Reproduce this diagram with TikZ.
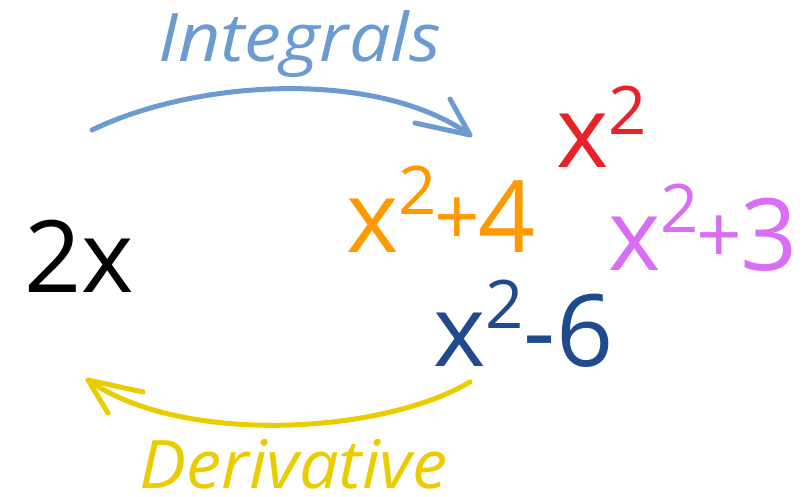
\documentclass[tikz,border=0pt]{standalone}
\usepackage{fontspec}
\setmainfont{Open Sans}
\definecolor{intblue}{RGB}{107,155,209}
\definecolor{deryellow}{RGB}{234,204,0}
\definecolor{eqred}{RGB}{232,35,40}
\definecolor{eqorange}{RGB}{255,153,0}
\definecolor{eqviolet}{RGB}{215,110,245}
\definecolor{eqnavy}{RGB}{31,75,140}
\newcommand\supsq[1][38pt]{\raisebox{#1}{\fontsize{67pt}{67pt}\selectfont 2}}
\newcommand\smplus{\kern-2pt\raisebox{7pt}{\scalebox{0.8}{+}}\kern-2pt}
\begin{document}
\begin{tikzpicture}[x=1pt,y=-1pt,
  eq/.style={anchor=base west, inner sep=0pt, font=\fontsize{100pt}{100pt}\selectfont},
  lbl/.style={anchor=base west, inner sep=0pt, font=\fontsize{67pt}{67pt}\selectfont\itshape},
  curve/.style={line width=5pt, line cap=round, line join=round}]
\useasboundingbox (0,0) rectangle (808,497);
% expressions
\node[eq] (twox) at (24,292) {2x};
\node[eq, text=eqred] (xsq) at (556,168) {x\supsq[33pt]};
\node[eq, text=eqorange] (xsqpf) at (346,252) {x\supsq\smplus 4};
\node[eq, text=eqviolet] (xsqpt) at (608,270) {x\supsq\smplus 3};
\node[eq, text=eqnavy] (xsqms) at (433,366) {x\supsq-6};
% labels
\node[lbl, text=intblue] (intlbl) at (158,62) {\scalebox{1.1}[1]{Integrals}};
\node[lbl, text=deryellow] (derlbl) at (139,488) {\scalebox{1.05}[1]{Derivative}};
% integral arrow
\coordinate (istart) at (92,130);
\coordinate (itip) at (470,135);
\coordinate (ibarbA) at (450,99);
\coordinate (ibarbB) at (415,123);
\draw[curve, intblue] (istart) .. controls (200,78) and (380,70) .. (itip);
\draw[curve, intblue] (ibarbA) -- (itip) -- (ibarbB);
% derivative arrow
\coordinate (dstart) at (470,382);
\coordinate (dtip) at (88,380);
\coordinate (dbarbA) at (143,392);
\coordinate (dbarbB) at (108,413);
\draw[curve, deryellow] (dstart) .. controls (380,435) and (180,445) .. (dtip);
\draw[curve, deryellow] (dbarbA) -- (dtip) -- (dbarbB);
\end{tikzpicture}
\end{document}
